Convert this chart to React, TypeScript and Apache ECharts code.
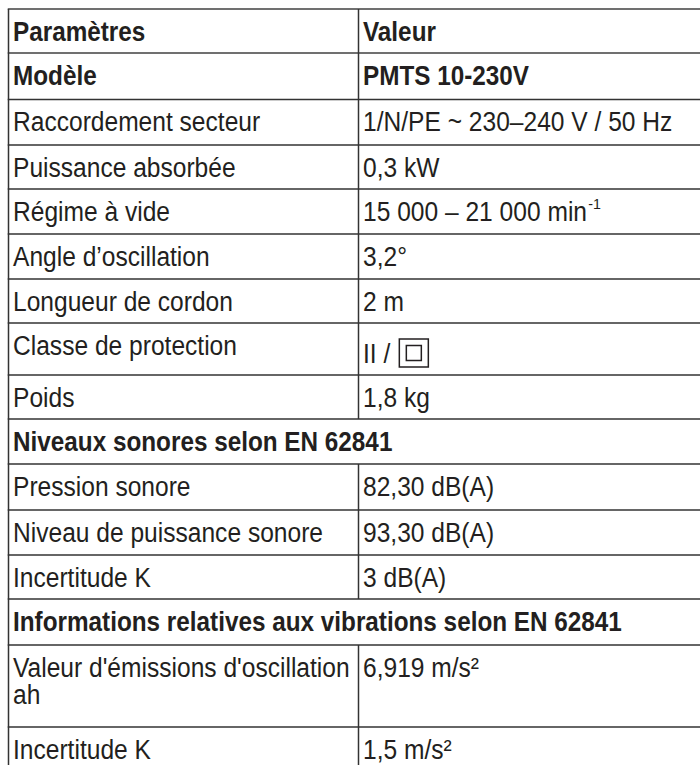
import React, { useEffect, useRef } from "react";
import * as echarts from "echarts";

// ---------- data ----------
const parameters: string[] = [
  "Paramètres",
  "Modèle",
  "Raccordement secteur",
  "Puissance absorbée",
  "Régime à vide",
  "Angle d’oscillation",
  "Longueur de cordon",
  "Classe de protection",
  "Poids",
  "Niveaux sonores selon EN 62841",
  "Pression sonore",
  "Niveau de puissance sonore",
  "Incertitude K",
  "Informations relatives aux vibrations selon EN 62841",
  "Valeur d'émissions d'oscillation\nah",
  "Incertitude K",
];
const values: string[] = [
  "Valeur",
  "PMTS 10-230V",
  "1/N/PE ~ 230–240 V / 50 Hz",
  "0,3 kW",
  "15 000 – 21 000 min",
  "3,2°",
  "2 m",
  "II /",
  "1,8 kg",
  "",
  "82,30 dB(A)",
  "93,30 dB(A)",
  "3 dB(A)",
  "",
  "6,919 m/s²",
  "1,5 m/s²",
];
const valueSuperscripts: string[] = ["", "", "", "", "-1", "", "", "", "", "", "", "", "", "", "", ""];
const valueSymbols: string[] = ["", "", "", "", "", "", "", "classII", "", "", "", "", "", "", "", ""];
const rowKinds: string[] = [
  "bold", "bold", "normal", "normal", "normal", "normal", "normal", "normal", "normal",
  "section", "normal", "normal", "normal", "section", "normal", "normal",
];

// ---------- layout ----------
const ROW_EDGES = [9, 53, 99.5, 145, 189, 234, 279, 323, 375, 419, 464, 510, 555, 599, 645, 727, 772];
const LEFT = 8.5;
const DIVIDER = 358.5;
const RIGHT = 720;
const TEXT_X1 = 13;
const TEXT_X2 = 363;
const FONT_FAMILY = "'Liberation Sans', Arial, Helvetica, sans-serif";
const FONT_SIZE = 28;
const LINE_GAP = 27.5;
const TEXT_COLOR = "#231f20";
const LINE_COLOR = "#333333";

function measure(text: string, weight: string, size = FONT_SIZE): number {
  const ctx = document.createElement("canvas").getContext("2d")!;
  ctx.font = `${weight} ${size}px ${FONT_FAMILY}`;
  return ctx.measureText(text).width;
}

export default function App() {
  const ref = useRef<HTMLDivElement>(null);
  useEffect(() => {
    if (!ref.current) return;
    document.body.style.margin = "0";
    const chart = echarts.init(ref.current, undefined, { renderer: "svg" });

    const sReg = 337 / measure("Valeur d'émissions d'oscillation", "normal");
    const sBold = 609 / measure("Informations relatives aux vibrations selon EN 62841", "bold");

    const els: any[] = [];
    els.push({ type: "rect", shape: { x: 0, y: 0, width: 700, height: 765 }, style: { fill: "#ffffff" }, silent: true });

    const txt = (text: string, x: number, y: number, bold: boolean, size = FONT_SIZE, sx?: number) => ({
      type: "text",
      x,
      y,
      scaleX: sx ?? (bold ? sBold : sReg),
      style: {
        text,
        fill: TEXT_COLOR,
        fontSize: size,
        fontFamily: FONT_FAMILY,
        fontWeight: bold ? "bold" : "normal",
        align: "left",
        verticalAlign: "middle",
      },
      silent: true,
    });

    parameters.forEach((p, i) => {
      const top = ROW_EDGES[i];
      const kind = rowKinds[i];
      const bold = kind !== "normal";
      const cy = top + 22;
      p.split("\n").forEach((line, k) => {
        els.push(txt(line, TEXT_X1, cy + k * LINE_GAP, bold));
      });
      if (kind !== "section") {
        const v = values[i];
        const vy = valueSymbols[i] === "classII" ? top + 30 : cy;
        els.push(txt(v, TEXT_X2, vy, bold));
        const w = measure(v, bold ? "bold" : "normal") * (bold ? sBold : sReg);
        if (valueSuperscripts[i]) {
          els.push(txt(valueSuperscripts[i], TEXT_X2 + w + 1, vy - 7, false, 15, 0.95));
        }
        if (valueSymbols[i] === "classII") {
          const bx = TEXT_X2 + w + 9;
          els.push({ type: "rect", shape: { x: bx, y: vy - 14, width: 29, height: 28 }, style: { fill: "none", stroke: TEXT_COLOR, lineWidth: 1.5 }, silent: true });
          els.push({ type: "rect", shape: { x: bx + 7, y: vy - 7.5, width: 15, height: 15 }, style: { fill: "none", stroke: TEXT_COLOR, lineWidth: 1.5 }, silent: true });
        }
      }
    });

    // horizontal lines
    ROW_EDGES.forEach((y, i) => {
      const light = i <= 1;
      els.push({
        type: "line",
        shape: { x1: LEFT - 0.75, y1: y, x2: RIGHT, y2: y },
        style: { stroke: light ? "#707070" : LINE_COLOR, lineWidth: light ? 2.2 : 1.5 },
        silent: true,
      });
    });
    // left border
    els.push({
      type: "line",
      shape: { x1: LEFT, y1: ROW_EDGES[0], x2: LEFT, y2: ROW_EDGES[ROW_EDGES.length - 1] },
      style: { stroke: LINE_COLOR, lineWidth: 1.5 },
      silent: true,
    });
    // divider
    rowKinds.forEach((k, i) => {
      if (k === "section") return;
      els.push({
        type: "line",
        shape: { x1: DIVIDER, y1: ROW_EDGES[i], x2: DIVIDER, y2: ROW_EDGES[i + 1] },
        style: { stroke: LINE_COLOR, lineWidth: 1.5 },
        silent: true,
      });
    });

    chart.setOption({ animation: false, graphic: { elements: els } });
    return () => chart.dispose();
  }, []);
  return <div ref={ref} style={{ position: "fixed", left: 0, top: 0, width: 700, height: 765, background: "#fff" }} />;
}
